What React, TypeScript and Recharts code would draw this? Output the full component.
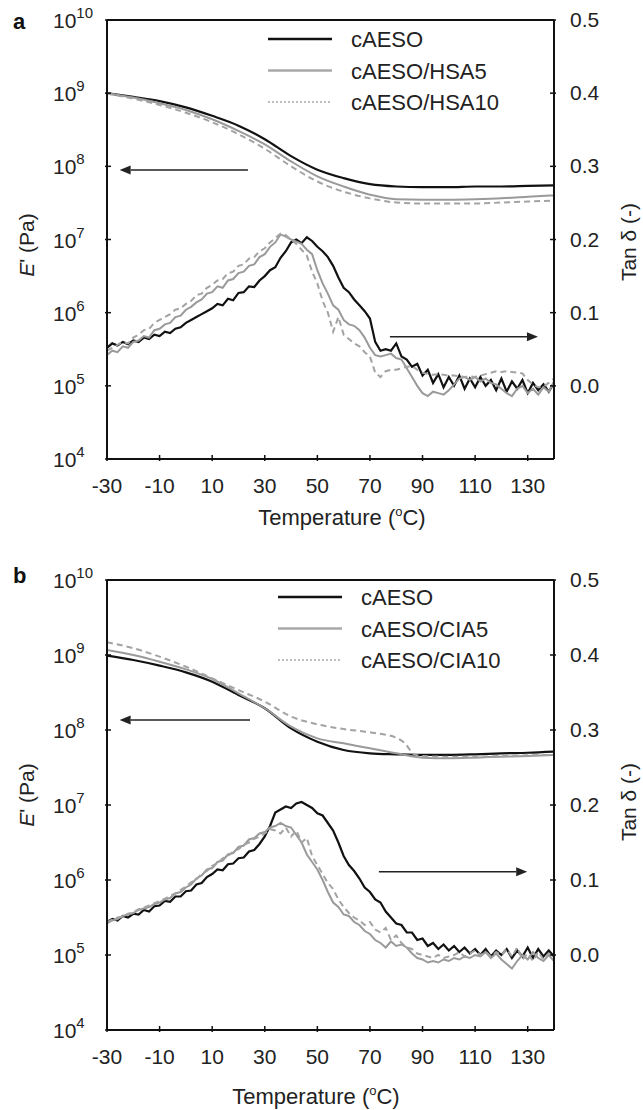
import React from 'react';
import { LineChart, Line, XAxis, YAxis, ReferenceLine } from 'recharts';

const FONT = '"Liberation Sans", Arial, Helvetica, sans-serif';
const AXIS = '#111';
const TXT = '#222';
const C_BLACK = '#111';
const C_GRAY = '#9a9a9a';
const C_DASH = '#a3a3a3';

// ---------- axes ----------
const X_TICKS = [-30, -10, 10, 30, 50, 70, 90, 110, 130];
const E_TICKS = [1e4, 1e5, 1e6, 1e7, 1e8, 1e9, 1e10];
const TAN_TICKS = [0, 0.1, 0.2, 0.3, 0.4, 0.5];

// ---------- storage modulus E' (Pa) ----------
const E_TEMPS = [-30, -20, -10, 0, 10, 20, 30, 40, 50, 60, 70, 80, 90, 100, 110, 120, 130, 140];
const A_E_CAESO = [1.0e9, 8.9e8, 7.8e8, 6.4e8, 4.9e8, 3.6e8, 2.35e8, 1.38e8, 9.0e7, 6.9e7, 5.7e7, 5.3e7, 5.2e7, 5.2e7, 5.3e7, 5.3e7, 5.4e7, 5.5e7];
const A_E_HSA5 = [1.0e9, 8.7e8, 7.3e8, 5.9e8, 4.4e8, 3.05e8, 2.0e8, 1.17e8, 7.3e7, 5.3e7, 4.1e7, 3.55e7, 3.5e7, 3.5e7, 3.55e7, 3.65e7, 3.85e7, 4.0e7];
const A_E_HSA10 = [9.8e8, 8.4e8, 6.9e8, 5.4e8, 4.0e8, 2.75e8, 1.74e8, 1.0e8, 6.2e7, 4.5e7, 3.65e7, 3.2e7, 3.1e7, 3.1e7, 3.1e7, 3.2e7, 3.3e7, 3.4e7];

const B_E_CAESO = [9.8e8, 8.57e8, 7.21e8, 5.87e8, 4.41e8, 2.93e8, 1.95e8, 1.05e8, 6.98e7, 5.41e7, 4.89e7, 4.74e7, 4.65e7, 4.65e7, 4.74e7, 4.89e7, 4.97e7, 5.14e7];
const B_E_CIA5 = [1.17e9, 1.0e9, 8.15e8, 6.44e8, 4.79e8, 3.08e8, 1.95e8, 1.11e8, 7.74e7, 6.64e7, 5.7e7, 4.89e7, 4.28e7, 4.19e7, 4.28e7, 4.41e7, 4.5e7, 4.65e7];
const B_E_CIA10_TEMPS = [-30, -20, -10, 0, 10, 20, 30, 40, 50, 60, 70, 80, 83, 87, 90, 100, 110, 120, 130, 140];
const B_E_CIA10 = [1.48e9, 1.23e9, 9.5e8, 6.98e8, 4.89e8, 3.41e8, 2.39e8, 1.51e8, 1.19e8, 1.03e8, 9.31e7, 7.9e7, 6.8e7, 4.7e7, 4.5e7, 4.41e7, 4.41e7, 4.5e7, 4.6e7, 4.65e7];

// ---------- tan delta ----------
const TAN_TEMPS = [
  -30, -28, -26, -24, -22, -20, -18, -16, -14, -12,
  -10, -8, -6, -4, -2, 0, 2, 4, 6, 8,
  10, 12, 14, 16, 18, 20, 22, 24, 26, 28,
  30, 32, 34, 36, 38, 40, 42, 44, 46, 48,
  50, 52, 54, 56, 58, 60, 62, 64, 66, 68,
  70, 72, 74, 76, 78, 80, 82, 84, 86, 88,
  90, 92, 94, 96, 98, 100, 102, 104, 106, 108,
  110, 112, 114, 116, 118, 120, 122, 124, 126, 128,
  130, 132, 134, 136, 138, 140,
];

const A_TAN_CAESO = [
  0.052, 0.058, 0.055, 0.060, 0.057, 0.062, 0.060, 0.066, 0.064, 0.070,
  0.068, 0.074, 0.072, 0.078, 0.080, 0.086, 0.090, 0.094, 0.098, 0.102,
  0.106, 0.112, 0.110, 0.119, 0.117, 0.127, 0.128, 0.136, 0.135, 0.144,
  0.150, 0.158, 0.162, 0.175, 0.184, 0.196, 0.200, 0.195, 0.203, 0.198,
  0.190, 0.184, 0.176, 0.164, 0.148, 0.134, 0.128, 0.118, 0.110, 0.102,
  0.092, 0.060, 0.048, 0.050, 0.048, 0.058, 0.040, 0.036, 0.026, 0.030,
  0.014, 0.022, 0.004, 0.016, -0.002, 0.012, 0.000, 0.014, -0.004, 0.010,
  -0.002, 0.012, 0.000, 0.008, -0.006, 0.010, -0.008, 0.006, -0.004, 0.008,
  -0.010, 0.004, -0.006, 0.002, -0.008, 0.004,
];
const A_TAN_HSA5 = [
  0.042, 0.048, 0.046, 0.054, 0.052, 0.060, 0.062, 0.068, 0.066, 0.076,
  0.078, 0.084, 0.086, 0.094, 0.096, 0.104, 0.108, 0.114, 0.118, 0.126,
  0.128, 0.136, 0.134, 0.144, 0.146, 0.154, 0.156, 0.164, 0.166, 0.176,
  0.180, 0.190, 0.196, 0.207, 0.204, 0.200, 0.197, 0.194, 0.186, 0.180,
  0.158, 0.140, 0.126, 0.110, 0.104, 0.090, 0.084, 0.082, 0.076, 0.066,
  0.052, 0.042, 0.040, 0.042, 0.044, 0.038, 0.036, 0.024, 0.012, 0.000,
  -0.010, -0.014, -0.008, -0.010, -0.012, -0.006, 0.002, 0.010, 0.012, 0.008,
  0.012, 0.006, 0.010, 0.004, 0.002, -0.004, -0.010, -0.014, -0.004, 0.000,
  -0.010, -0.004, -0.012, -0.002, -0.008, 0.006,
];
const A_TAN_HSA10 = [
  0.048, 0.052, 0.056, 0.060, 0.058, 0.066, 0.070, 0.076, 0.078, 0.086,
  0.090, 0.094, 0.098, 0.104, 0.106, 0.112, 0.116, 0.124, 0.126, 0.134,
  0.138, 0.144, 0.146, 0.154, 0.156, 0.164, 0.166, 0.174, 0.176, 0.184,
  0.188, 0.196, 0.202, 0.208, 0.206, 0.200, 0.194, 0.186, 0.178, 0.156,
  0.140, 0.116, 0.100, 0.074, 0.094, 0.070, 0.064, 0.058, 0.054, 0.046,
  0.040, 0.018, 0.012, 0.020, 0.022, 0.022, 0.024, 0.026, 0.027, 0.022,
  0.018, 0.016, 0.015, 0.016, 0.015, 0.014, 0.014, 0.013, 0.012, 0.013,
  0.012, 0.014, 0.016, 0.018, 0.020, 0.019, 0.020, 0.019, 0.018, 0.017,
  0.008, 0.002, -0.002, -0.001, 0.004, 0.010,
];

const B_TAN_CAESO = [
  0.044, 0.048, 0.046, 0.052, 0.050, 0.055, 0.054, 0.060, 0.058, 0.065,
  0.066, 0.072, 0.071, 0.078, 0.078, 0.085, 0.086, 0.094, 0.096, 0.104,
  0.108, 0.114, 0.113, 0.121, 0.122, 0.129, 0.130, 0.138, 0.140, 0.148,
  0.158, 0.172, 0.190, 0.194, 0.198, 0.196, 0.202, 0.204, 0.200, 0.196,
  0.189, 0.186, 0.176, 0.166, 0.150, 0.132, 0.120, 0.112, 0.102, 0.090,
  0.084, 0.074, 0.070, 0.058, 0.050, 0.042, 0.040, 0.030, 0.030, 0.020,
  0.022, 0.012, 0.016, 0.008, 0.014, 0.006, 0.012, 0.004, 0.010, 0.002,
  0.008, 0.000, 0.008, -0.002, 0.006, 0.000, 0.008, -0.004, 0.006, -0.002,
  0.010, -0.004, 0.008, -0.002, 0.006, -0.002,
];
const B_TAN_CIA5 = [
  0.042, 0.046, 0.048, 0.052, 0.054, 0.056, 0.060, 0.062, 0.064, 0.068,
  0.070, 0.074, 0.076, 0.082, 0.084, 0.090, 0.094, 0.102, 0.106, 0.114,
  0.116, 0.124, 0.126, 0.134, 0.136, 0.144, 0.146, 0.154, 0.156, 0.162,
  0.164, 0.170, 0.172, 0.176, 0.172, 0.170, 0.160, 0.150, 0.134, 0.124,
  0.114, 0.100, 0.084, 0.070, 0.064, 0.054, 0.052, 0.044, 0.040, 0.032,
  0.028, 0.020, 0.016, 0.010, 0.018, 0.012, 0.014, 0.010, 0.002, -0.004,
  -0.006, -0.010, -0.008, -0.010, -0.006, -0.008, -0.004, -0.006, -0.002, -0.004,
  0.000, -0.002, 0.004, -0.004, 0.002, -0.006, -0.012, -0.018, -0.008, 0.000,
  -0.006, 0.004, -0.004, -0.008, 0.000, -0.008,
];
const B_TAN_CIA10 = [
  0.044, 0.047, 0.050, 0.051, 0.055, 0.057, 0.061, 0.063, 0.066, 0.069,
  0.072, 0.075, 0.079, 0.082, 0.087, 0.091, 0.097, 0.101, 0.108, 0.112,
  0.119, 0.122, 0.129, 0.132, 0.138, 0.141, 0.147, 0.150, 0.155, 0.158,
  0.162, 0.168, 0.166, 0.162, 0.170, 0.158, 0.166, 0.150, 0.156, 0.132,
  0.120, 0.108, 0.096, 0.088, 0.074, 0.064, 0.056, 0.050, 0.046, 0.040,
  0.044, 0.034, 0.030, 0.036, 0.020, 0.026, 0.016, 0.010, 0.008, 0.002,
  0.000, -0.002, -0.004, 0.000, -0.004, -0.002, 0.000, 0.004, -0.002, 0.002,
  0.006, 0.000, 0.004, -0.002, 0.004, 0.000, 0.008, -0.002, 0.010, -0.006,
  0.002, -0.008, 0.004, -0.006, 0.002, -0.004,
];

// ---------- legend names ----------
const A_NAMES = ['cAESO', 'cAESO/HSA5', 'cAESO/HSA10'];
const B_NAMES = ['cAESO', 'cAESO/CIA5', 'cAESO/CIA10'];

// ---------- arrow annotations (data coordinates) ----------
const A_LEFT_ARROW = [{ x: 23.6, y: 8.9e7 }, { x: -25.2, y: 8.9e7 }];
const A_RIGHT_ARROW = [{ x: 77.6, y: 0.067 }, { x: 133.9, y: 0.067 }];
const B_LEFT_ARROW = [{ x: 24.4, y: 1.36e8 }, { x: -25.2, y: 1.36e8 }];
const B_RIGHT_ARROW = [{ x: 73.4, y: 0.111 }, { x: 129.8, y: 0.111 }];

const pts = (xs: number[], ys: number[]) => xs.map((t, i) => ({ t, v: ys[i] }));

const LeftTick = (p: any) => {
  const { x, y, payload } = p;
  const exp = Math.round(Math.log10(payload.value));
  return (
    <g>
      <line x1={x - 2} x2={x + 4} y1={y} y2={y} stroke={AXIS} strokeWidth={1.5} />
      <text x={x - 54} y={y + 8} fill={TXT} fontSize={21} fontFamily={FONT}>
        10
        <tspan fontSize={15} dy={-10}>{exp}</tspan>
      </text>
    </g>
  );
};

const RightTick = (p: any) => {
  const { x, y, payload } = p;
  return (
    <g>
      <line x1={x - 4} x2={x + 2} y1={y} y2={y} stroke={AXIS} strokeWidth={1.5} />
      <text x={x + 16} y={y + 7} fill={TXT} fontSize={21} fontFamily={FONT}>
        {payload.value.toFixed(1)}
      </text>
    </g>
  );
};

const BottomTick = (p: any) => {
  const { x, y, payload } = p;
  return (
    <g>
      <line x1={x} x2={x} y1={y + 2} y2={y - 4} stroke={AXIS} strokeWidth={1.5} />
      <text x={x} y={y + 34} textAnchor="middle" fill={TXT} fontSize={21} fontFamily={FONT}>
        {payload.value}
      </text>
    </g>
  );
};

const Arrow = (p: any) => {
  const { x1, y1, x2, y2 } = p;
  if (x1 == null) return null;
  const dir = x2 > x1 ? 1 : -1;
  const hx = x2 - dir * 11;
  return (
    <g>
      <line x1={x1} y1={y1} x2={hx} y2={y2} stroke="#222" strokeWidth={1.6} />
      <polygon points={`${x2},${y2} ${hx},${y2 - 4.5} ${hx},${y2 + 4.5}`} fill="#222" />
    </g>
  );
};

type PanelCfg = {
  top: number;
  height: number;
  mTop: number;
  xh: number;
  e: { temps: number[]; vals: number[] }[];
  tan: number[][];
  leftArrow: { x: number; y: number }[];
  rightArrow: { x: number; y: number }[];
};

const STYLES = [
  { stroke: C_BLACK, width: 2.2, dash: undefined as string | undefined },
  { stroke: C_GRAY, width: 2, dash: undefined as string | undefined },
  { stroke: C_DASH, width: 2, dash: '6 4' },
];

function Panel({ cfg }: { cfg: PanelCfg }) {
  return (
    <div style={{ position: 'absolute', left: 0, top: cfg.top }}>
      <LineChart width={643} height={cfg.height} margin={{ top: cfg.mTop, right: 0, bottom: 0, left: 0 }}>
        <XAxis
          dataKey="t"
          type="number"
          domain={[-30, 140]}
          ticks={X_TICKS}
          interval={0}
          allowDataOverflow
          height={cfg.xh}
          tickSize={0}
          tickMargin={0}
          tickLine={false}
          tick={BottomTick}
          axisLine={{ stroke: AXIS, strokeWidth: 2 }}
        />
        <YAxis
          yAxisId="left"
          type="number"
          scale="log"
          domain={[1e4, 1e10]}
          ticks={E_TICKS}
          interval={0}
          allowDataOverflow
          width={107}
          tickSize={0}
          tickMargin={0}
          tickLine={false}
          tick={LeftTick}
          axisLine={{ stroke: AXIS, strokeWidth: 2 }}
        />
        <YAxis
          yAxisId="right"
          orientation="right"
          type="number"
          domain={[-0.1, 0.5]}
          ticks={TAN_TICKS}
          interval={0}
          allowDataOverflow
          width={89}
          tickSize={0}
          tickMargin={0}
          tickLine={false}
          tick={RightTick}
          axisLine={{ stroke: AXIS, strokeWidth: 2 }}
        />
        <ReferenceLine yAxisId="left" y={1e10} stroke={AXIS} strokeWidth={2} />
        {cfg.e.map((s, i) => (
          <Line
            key={'e' + i}
            yAxisId="left"
            data={pts(s.temps, s.vals)}
            dataKey="v"
            type="monotone"
            stroke={STYLES[i].stroke}
            strokeWidth={STYLES[i].width}
            strokeDasharray={STYLES[i].dash}
            dot={false}
            activeDot={false}
            isAnimationActive={false}
          />
        ))}
        {cfg.tan.map((vals, i) => (
          <Line
            key={'t' + i}
            yAxisId="right"
            data={pts(TAN_TEMPS, vals)}
            dataKey="v"
            type="linear"
            stroke={STYLES[i].stroke}
            strokeWidth={STYLES[i].width}
            strokeDasharray={STYLES[i].dash}
            dot={false}
            activeDot={false}
            isAnimationActive={false}
          />
        ))}
        <ReferenceLine yAxisId="left" segment={cfg.leftArrow} shape={Arrow} />
        <ReferenceLine yAxisId="right" segment={cfg.rightArrow} shape={Arrow} />
      </LineChart>
    </div>
  );
}

function Legend({ names, x, y }: { names: string[]; x: number; y: number }) {
  const samples = [
    { stroke: '#111', width: 2.5, dash: undefined as string | undefined },
    { stroke: '#a8a8a8', width: 2.5, dash: undefined as string | undefined },
    { stroke: '#bdbdbd', width: 2, dash: '2 2' },
  ];
  return (
    <g>
      {names.map((n, i) => (
        <g key={n}>
          <line x1={x} x2={x + 64} y1={y + i * 31.5} y2={y + i * 31.5} stroke={samples[i].stroke} strokeWidth={samples[i].width} strokeDasharray={samples[i].dash} />
          <text x={x + 83} y={y + i * 31.5 + 8} fontSize={22} fill={TXT} fontFamily={FONT}>{n}</text>
        </g>
      ))}
    </g>
  );
}

function YLabels({ cy, tcy }: { cy: number; tcy: number }) {
  return (
    <g fontFamily={FONT} fill={TXT} fontSize={21}>
      <text x={34} y={cy} textAnchor="middle" transform={`rotate(-90 34 ${cy})`}>
        <tspan fontStyle="italic">E</tspan>{"' (Pa)"}
      </text>
      <text x={636} y={tcy} textAnchor="middle" transform={`rotate(-90 636 ${tcy})`}>
        {'Tan  δ (-)'}
      </text>
    </g>
  );
}

function XLabel({ cx, y }: { cx: number; y: number }) {
  return (
    <text x={cx} y={y} textAnchor="middle" fontFamily={FONT} fill={TXT} fontSize={22}>
      {'Temperature  ('}
      <tspan fontSize={13} dy={-9}>o</tspan>
      <tspan dy={9}>{'C)'}</tspan>
    </text>
  );
}

const PANEL_A: PanelCfg = {
  top: 0,
  height: 550,
  mTop: 20,
  xh: 91,
  e: [
    { temps: E_TEMPS, vals: A_E_CAESO },
    { temps: E_TEMPS, vals: A_E_HSA5 },
    { temps: E_TEMPS, vals: A_E_HSA10 },
  ],
  tan: [A_TAN_CAESO, A_TAN_HSA5, A_TAN_HSA10],
  leftArrow: A_LEFT_ARROW,
  rightArrow: A_RIGHT_ARROW,
};

const PANEL_B: PanelCfg = {
  top: 550,
  height: 560,
  mTop: 30,
  xh: 80,
  e: [
    { temps: E_TEMPS, vals: B_E_CAESO },
    { temps: E_TEMPS, vals: B_E_CIA5 },
    { temps: B_E_CIA10_TEMPS, vals: B_E_CIA10 },
  ],
  tan: [B_TAN_CAESO, B_TAN_CIA5, B_TAN_CIA10],
  leftArrow: B_LEFT_ARROW,
  rightArrow: B_RIGHT_ARROW,
};

export default function App() {
  return (
    <div style={{ position: 'absolute', left: 0, top: 0, width: 643, height: 1110, background: '#fff', overflow: 'hidden' }}>
      <Panel cfg={PANEL_A} />
      <Panel cfg={PANEL_B} />
      <svg width={643} height={1110} style={{ position: 'absolute', left: 0, top: 0, pointerEvents: 'none' }}>
        <text x={13} y={29} fontSize={22} fontWeight="bold" fontFamily={FONT} fill="#111">a</text>
        <text x={13} y={583} fontSize={22} fontWeight="bold" fontFamily={FONT} fill="#111">b</text>
        <Legend names={A_NAMES} x={268} y={39} />
        <Legend names={B_NAMES} x={278} y={597} />
        <YLabels cy={245} tcy={242} />
        <YLabels cy={795} tcy={802} />
        <XLabel cx={342} y={525} />
        <XLabel cx={316} y={1104} />
      </svg>
    </div>
  );
}
